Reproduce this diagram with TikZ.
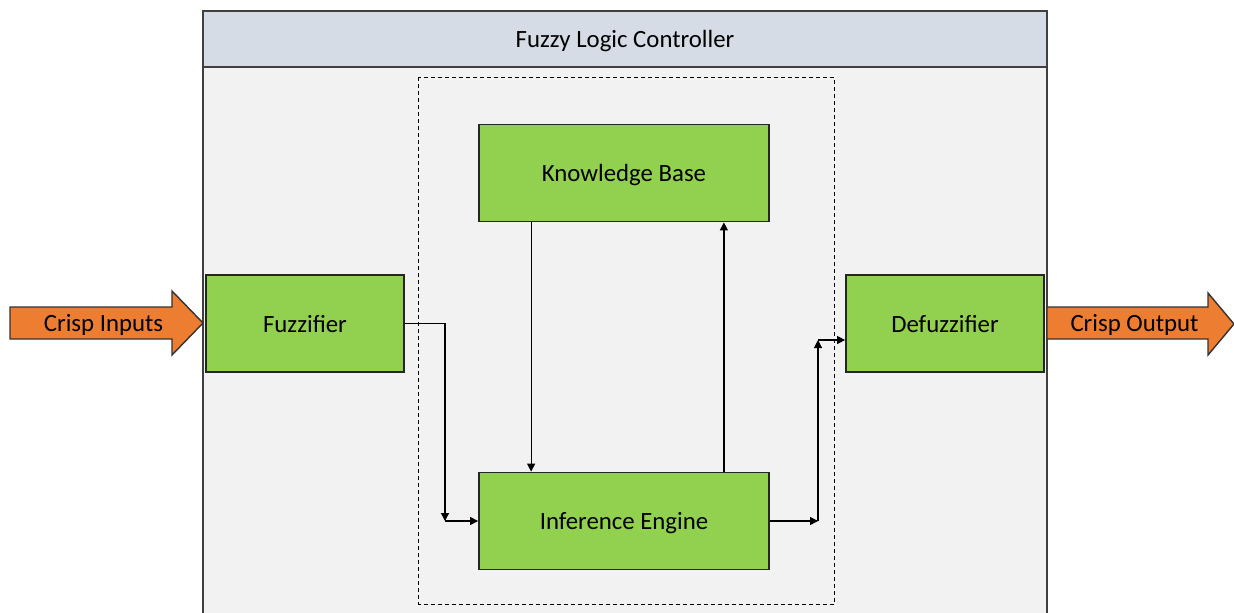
\documentclass[tikz,border=0pt]{standalone}
\usepackage{fontspec}
\setmainfont{Carlito}
\usetikzlibrary{arrows.meta}
\definecolor{leaf}{HTML}{92D050}
\definecolor{flame}{HTML}{ED7D31}
\definecolor{band}{HTML}{D6DCE5}
\definecolor{panel}{HTML}{F2F2F2}
\tikzset{
  block/.style={draw=black!85,line width=0.9pt,fill=leaf,minimum height=48.5pt,text height=8.7pt,text depth=0pt,font=\fontsize{12.4}{15}\selectfont},
  conn/.style={line width=0.6pt,-{Triangle[length=4pt,width=4pt]}},
  frame/.style={draw=black!75,line width=0.9pt},
  bigarrow/.style={draw=black!80,line width=0.7pt,fill=flame},
  lbl/.style={font=\fontsize{12.4}{15}\selectfont,inner sep=0pt,text height=8.7pt,text depth=0pt}
}
\begin{document}
\begin{tikzpicture}[x=0.5pt,y=-0.5pt]
\useasboundingbox (0,0) rectangle (1234,612);

\fill[panel] (203,11) rectangle (1047,630);
\draw[frame,fill=band] (203,11) rectangle (1047,67);
\draw[frame] (203,630)--(203,11)--(1047,11)--(1047,630);
\node[lbl] (title) at (625,39) {Fuzzy Logic Controller};

\draw[line width=0.5pt,dash pattern=on 2pt off 1.5pt] (418.5,77) rectangle (834,604);

\node[block,minimum width=145pt] (kb) at (624,173) {Knowledge Base};
\node[block,minimum width=145pt] (ie) at (624,521) {Inference Engine};
\node[block,minimum width=99pt] (fuz) at (305,323.5) {Fuzzifier};
\node[block,minimum width=99pt] (defuz) at (945,323.5) {Defuzzifier};

\coordinate (j1) at (445,521);
\coordinate (j2) at (818,521);
\coordinate (j3) at (818,340);

\draw[conn] (fuz.east) -| (j1);
\draw[conn] (j1) -- (ie.west);
\draw[conn] ([xshift=26.5pt]kb.south west) -- ([xshift=26.5pt]ie.north west);
\draw[conn] ([xshift=-23pt]ie.north east) -- ([xshift=-23pt]kb.south east);
\draw[conn] (ie.east) -- (j2);
\draw[conn] (j2) -- (j3);
\draw[conn] (j3) -- (j3 -| defuz.west);

\draw[bigarrow] (10,307)--(172,307)--(172,291)--(203,323)--(172,355)--(172,339)--(10,339)--cycle;
\node[lbl] (inlbl) at (103.5,323) {Crisp Inputs};
\draw[bigarrow] (1047,307)--(1208,307)--(1208,293)--(1234,324)--(1208,355)--(1208,339)--(1047,339)--cycle;
\node[lbl] (outlbl) at (1134.5,323) {Crisp Output};
\end{tikzpicture}
\end{document}
